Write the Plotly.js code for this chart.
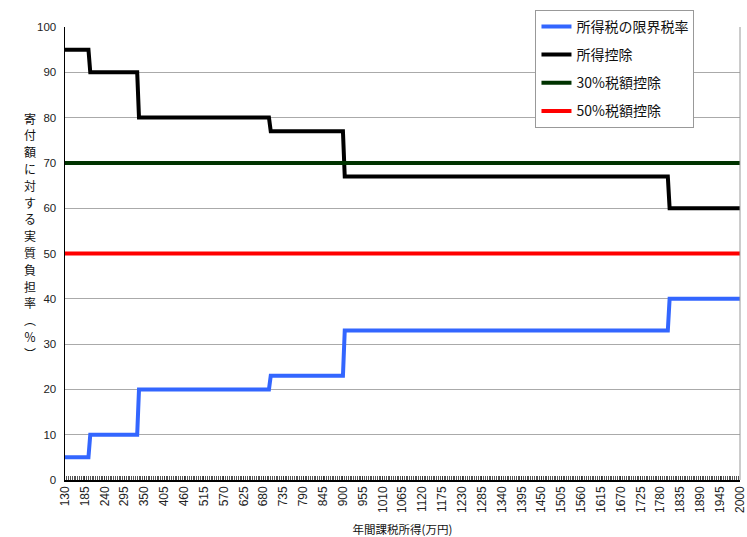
<!DOCTYPE html>
<html>
<head>
<meta charset="utf-8">
<script src="https://cdn.plot.ly/plotly-3.0.1.min.js"></script>
<style>html,body{margin:0;padding:0;background:#fff;}#chart{width:747px;height:537px;}</style>
</head>
<body>
<div id="chart"></div>
<script>
// income thresholds (万円) where the rate changes; each step spans one 5万円 category
const incomeX = [130, 195, 200, 330, 335, 695, 700, 900, 905, 1800, 1805, 2000];
const marginalRate = [5, 5, 10, 10, 20, 20, 23, 23, 33, 33, 40, 40];
const deductionBurden = [95, 95, 90, 90, 80, 80, 77, 77, 67, 67, 60, 60];
const credit30X = [130, 2000];
const credit30 = [70, 70];
const credit50X = [130, 2000];
const credit50 = [50, 50];
const seriesNames = ['所得税の限界税率', '所得控除', '30%税額控除', '50%税額控除'];
const tickStart = 130, tickStep = 55, categoryStep = 5;
const yTitleChars = ['寄','付','額','に','対','す','る','実','質','負','担','率','︵','％','︶'];

const cjk = '"Noto Sans CJK JP", "Liberation Sans", sans-serif';
const num = '"Liberation Sans", Arial, sans-serif';

const traces = [
  {x: incomeX, y: marginalRate, name: seriesNames[0], legendgroup: 'a', line: {color: '#3366ff', width: 4}},
  {x: incomeX, y: deductionBurden, name: seriesNames[1], legendgroup: 'b', line: {color: '#000000', width: 4}},
  {x: credit30X, y: credit30, name: seriesNames[2], legendgroup: 'c', line: {color: '#003300', width: 4}},
  {x: credit50X, y: credit50, name: seriesNames[3], legendgroup: 'd', line: {color: '#ff0000', width: 4}}
].map(t => Object.assign({type: 'scatter', mode: 'lines', hoverinfo: 'skip'}, t));

// vertical axis title, one character per annotation (plot area: 453 px tall, top at 27 px)
const plotH = 453, titleTop = 118, titleStep = 16.8;
const yTitle = yTitleChars.map((ch, i) => ({
  xref: 'paper', yref: 'paper', x: -0.052, y: 1 - (titleTop + i * titleStep - 27) / plotH,
  xanchor: 'center', yanchor: 'middle', showarrow: false, text: ch,
  font: {family: cjk, size: 12, color: '#111'}
}));

const layout = {
  width: 747, height: 537,
  margin: {l: 65, r: 7, t: 27, b: 57},
  paper_bgcolor: '#fff', plot_bgcolor: '#fff',
  showlegend: true,
  legend: {
    x: 0.697, y: 1.038, xanchor: 'left', yanchor: 'top',
    bgcolor: '#fff', bordercolor: '#999', borderwidth: 1,
    font: {family: cjk, size: 14, color: '#111'},
    traceorder: 'grouped', tracegroupgap: 7
  },
  xaxis: {
    range: [130, 2000], tickmode: 'linear', tick0: tickStart, dtick: tickStep,
    tickangle: -90, showgrid: false, zeroline: false,
    showline: true, linecolor: '#000', linewidth: 1.5,
    ticks: 'inside', ticklen: 4, tickcolor: '#333', tickwidth: 1,
    minor: {tickmode: 'linear', tick0: tickStart, dtick: categoryStep, ticks: 'inside', ticklen: 4, tickcolor: '#555', tickwidth: 1, showgrid: false},
    tickfont: {family: num, size: 12, color: '#222'},
    title: {text: '年間課税所得(万円)', font: {family: cjk, size: 11.5, color: '#111'}, standoff: 18}
  },
  yaxis: {
    range: [0, 100], dtick: 10, showgrid: true, gridcolor: '#aaa', gridwidth: 1,
    zeroline: false, showline: true, linecolor: '#000', linewidth: 1.5,
    ticks: '', ticklabelstandoff: 5,
    tickfont: {family: num, size: 11.5, color: '#222'}
  },
  shapes: [
    {type: 'line', xref: 'paper', yref: 'paper', x0: 1, x1: 1, y0: 0, y1: 1, line: {color: '#999', width: 1}}
  ],
  annotations: yTitle
};

Plotly.newPlot('chart', traces, layout, {displayModeBar: false, staticPlot: true});
</script>
</body>
</html>
